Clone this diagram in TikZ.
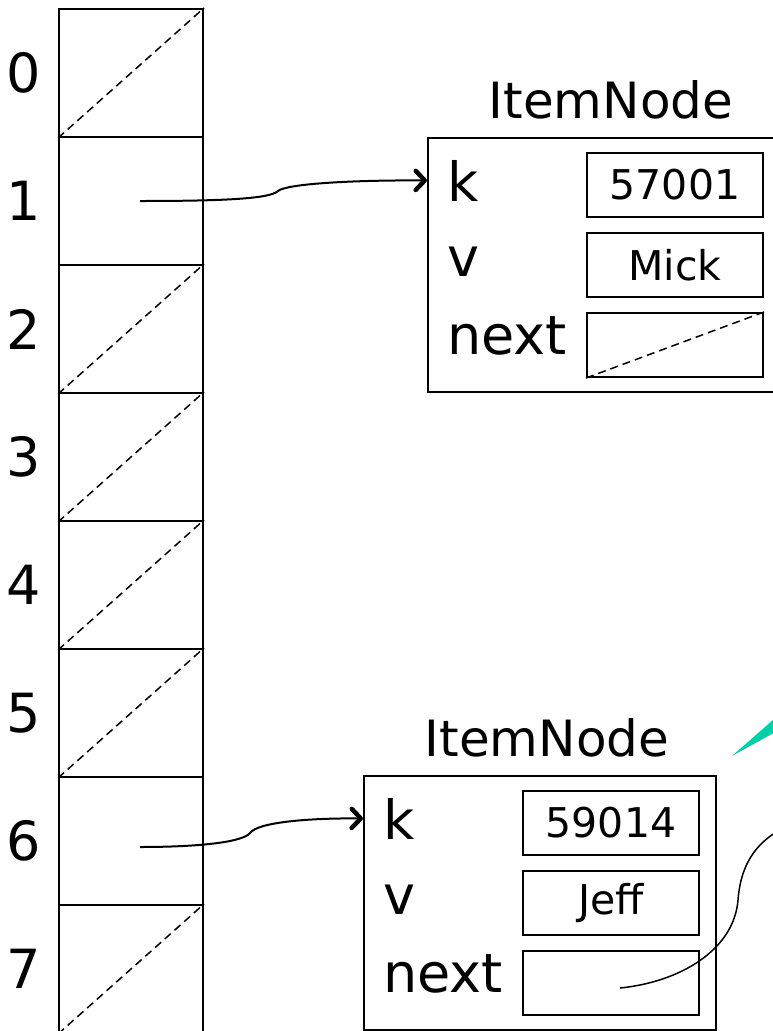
\documentclass[tikz,border=0pt]{standalone}
\usepackage{fontspec}
\setmainfont{DejaVu Sans}
\usetikzlibrary{arrows.meta}
\definecolor{wedgeteal}{RGB}{0,208,168}

\begin{document}
\begin{tikzpicture}[x=1pt,y=-1pt,
  cell/.style={draw,line width=2pt,minimum width=144pt,minimum height=128pt,inner sep=0pt},
  field/.style={draw,line width=2pt,minimum width=176pt,minimum height=64pt,inner sep=0pt,font=\fontsize{41}{46}\selectfont},
  itembox/.style={draw,line width=2pt,minimum width=352pt,minimum height=254pt,inner sep=0pt,anchor=north west},
  nil/.style={line width=1.5pt,dash pattern=on 8pt off 5pt},
  ptr/.style={line width=2pt,-{Straight Barb[length=9pt,width=19pt,line width=4.5pt,round]}},
  lbl/.style={inner sep=0pt,font=\fontsize{54}{60}\selectfont},
  ttl/.style={inner sep=0pt,font=\fontsize{50}{56}\selectfont}]
\useasboundingbox (0,0) rectangle (773,1031);
\clip (0,0) rectangle (773,1031);
\foreach \i in {0,...,7} {
  \node[cell] (r\i) at (131,{73+128*\i}) {};
  \node[lbl] (n\i) at (24,{73+128*\i}) {\i};
}
\foreach \i in {0,2,3,4,5,7}
  \draw[nil] (r\i.south west) -- (r\i.north east);

\node[itembox,minimum width=370pt] (mick) at (427,137) {};
\node[ttl] (micktitle) at (611,100) {ItemNode};
\node[lbl,anchor=base west] (mickk) at (447,201) {k};
\node[lbl,anchor=base west] (mickv) at (447,276) {v};
\node[lbl,anchor=base west] (micknext) at (447,354) {next};
\node[field] (mickkey) at (675,185) {57001};
\node[field] (mickval) at (675,265) {Mick};
\node[field] (mickptr) at (675,345) {};
\draw[nil] (mickptr.south west) -- (mickptr.north east);

\node[itembox] (jeff) at (363,775) {};
\node[ttl] (jefftitle) at (547,738) {ItemNode};
\node[lbl,anchor=base west] (jeffk) at (383,839) {k};
\node[lbl,anchor=base west] (jeffv) at (383,914) {v};
\node[lbl,anchor=base west] (jeffnext) at (383,992) {next};
\node[field] (jeffkey) at (611,823) {59014};
\node[field] (jeffval) at (611,903) {Jeff};
\node[field] (jeffptr) at (611,983) {};

\coordinate (b1) at (140,201);
\coordinate (b6) at (140,847);
\coordinate (jeffnxt) at (620,988);
\coordinate (offpage) at (790,825);
\draw[ptr] (b1) .. controls (220,201) and (270,199) .. (278,191)
  .. controls (286,184) and (350,180) .. (mick.west |- mickk.center);
\draw[ptr] (b6) .. controls (200,847) and (243,842) .. (250,833)
  .. controls (258,822) and (310,818) .. (jeff.west |- jeffk.center);
\draw[line width=1.5pt] (jeffnxt) .. controls (680,982) and (734,950) .. (738,900)
  .. controls (741,860) and (760,838) .. (offpage);
\fill[wedgeteal] (732,756) -- (790,705) -- (790,724) -- cycle;
\end{tikzpicture}
\end{document}
